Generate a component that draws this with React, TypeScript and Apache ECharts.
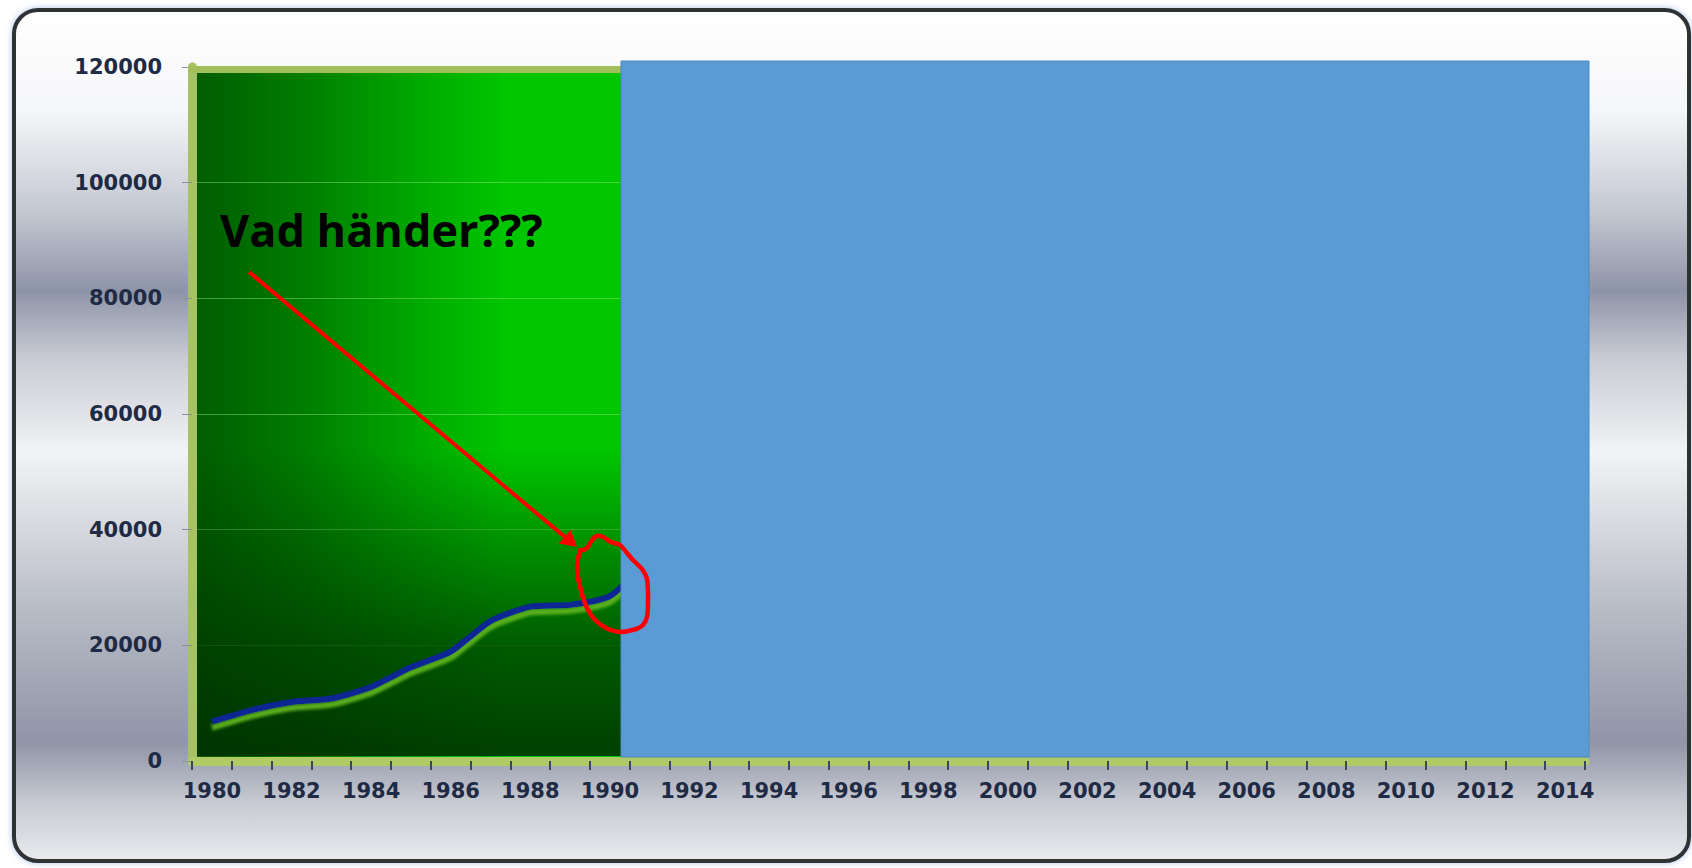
import React, { useEffect, useRef } from "react";
import * as echarts from "echarts";

const years = [
  "1980", "1981", "1982", "1983", "1984", "1985", "1986", "1987", "1988", "1989",
  "1990", "1991", "1992", "1993", "1994", "1995", "1996", "1997", "1998", "1999",
  "2000", "2001", "2002", "2003", "2004", "2005", "2006", "2007", "2008", "2009",
  "2010", "2011", "2012", "2013", "2014",
];

const values = [6800, 8800, 10200, 10800, 12800, 16200, 18900, 24200, 26700, 27000, 28500, 35000];

const yMin = 0;
const yMax = 120000;
const yStep = 20000;

const annotationText = "Vad händer???";

export default function App() {
  const ref = useRef<HTMLDivElement>(null);

  useEffect(() => {
    if (!ref.current) return;
    const chart = echarts.init(ref.current, null, { renderer: "svg" });

    const frameFill = new echarts.graphic.LinearGradient(0, 0, 0, 1, [
      { offset: 0, color: "#ffffff" },
      { offset: 0.12, color: "#f5f6f8" },
      { offset: 0.24, color: "#c2c6d0" },
      { offset: 0.33, color: "#8e94a8" },
      { offset: 0.41, color: "#c9ccd4" },
      { offset: 0.52, color: "#f2f3f5" },
      { offset: 0.7, color: "#b9bdc7" },
      { offset: 0.86, color: "#8f95a7" },
      { offset: 0.93, color: "#c6c9d1" },
      { offset: 1, color: "#e9ebee" },
    ]);

    const gridBg = new echarts.graphic.LinearGradient(0, 0, 1, 0, [
      { offset: 0, color: "#005c00" },
      { offset: 0.078, color: "#007c00" },
      { offset: 0.164, color: "#00aa00" },
      { offset: 0.225, color: "#00c600" },
      { offset: 1, color: "#00c800" },
    ]);

    const darken = new echarts.graphic.LinearGradient(0, 0, 0, 1, [
      { offset: 0, color: "rgba(0,55,0,0)" },
      { offset: 0.55, color: "rgba(0,55,0,0)" },
      { offset: 0.7, color: "rgba(0,55,0,0.4)" },
      { offset: 0.84, color: "rgba(0,55,0,0.75)" },
      { offset: 1, color: "rgba(0,48,0,0.9)" },
    ]);

    const loop = [
      [580, 550], [577, 567], [580, 587], [587, 608], [595, 620], [608, 629], [620, 632],
      [636, 629], [643, 625], [647, 617], [648, 600], [647, 579], [642, 569], [636, 563],
      [632, 559], [627, 553], [620, 545], [611, 542], [603, 537], [597, 536], [592, 540],
      [587, 548], [581, 551],
    ];

    const labelFont = {
      color: "#1f2a44",
      fontFamily: "DejaVu Sans",
      fontWeight: "bold",
      fontSize: 21,
    };

    chart.setOption({
      animation: false,
      grid: {
        left: 192,
        top: 67,
        width: 1393,
        height: 694,
        show: true,
        backgroundColor: gridBg,
        borderWidth: 0,
      },
      xAxis: {
        type: "category",
        data: years,
        boundaryGap: true,
        axisLine: { show: true, lineStyle: { color: "#b0cb66", width: 9 } },
        axisTick: {
          show: true,
          interval: 0,
          alignWithLabel: false,
          length: 9,
          lineStyle: { color: "#3a4660", width: 2 },
        },
        axisLabel: { interval: 1, margin: 19, ...labelFont },
        splitLine: { show: false },
      },
      yAxis: {
        type: "value",
        min: yMin,
        max: yMax,
        interval: yStep,
        axisLine: { show: true, lineStyle: { color: "#a6c262", width: 9 } },
        axisTick: { show: true, length: 10, lineStyle: { color: "#8a8f9a", width: 1 } },
        axisLabel: { margin: 30, formatter: (v: number) => String(v), ...labelFont },
        splitLine: { show: true, lineStyle: { color: "rgba(150,235,130,0.45)", width: 1 } },
      },
      series: [
        {
          type: "line",
          data: values,
          symbol: "none",
          smooth: 0.2,
          z: 3,
          lineStyle: {
            color: "#0c2694",
            width: 6,
            shadowColor: "rgba(95,180,30,0.95)",
            shadowBlur: 3,
            shadowOffsetY: 6,
          },
        },
      ],
      graphic: [
        {
          type: "rect",
          z: -10,
          shape: { x: 14, y: 10, width: 1675, height: 851, r: 24 },
          style: {
            fill: frameFill,
            stroke: "#2f3032",
            lineWidth: 4,
            shadowBlur: 6,
            shadowColor: "rgba(140,170,220,0.7)",
          },
        },
        {
          type: "rect",
          z: 1,
          silent: true,
          shape: { x: 197, y: 73, width: 424, height: 683 },
          style: { fill: darken },
        },
        {
          type: "rect",
          z: 1,
          shape: { x: 188, y: 66, width: 433, height: 7 },
          style: { fill: "#a3bf5c" },
        },
        {
          type: "rect",
          z: 5,
          shape: { x: 621, y: 61, width: 968, height: 696 },
          style: { fill: "#5b9bd5", stroke: "#4f89c2", lineWidth: 1 },
        },
        {
          type: "text",
          z: 6,
          style: {
            text: annotationText,
            x: 220,
            y: 229,
            fill: "#000000",
            fontFamily: "Open Sans",
            fontWeight: "bold",
            fontSize: 45,
            verticalAlign: "middle",
            align: "left",
          },
        },
        {
          type: "line",
          z: 6,
          shape: { x1: 249, y1: 272, x2: 566, y2: 538 },
          style: { stroke: "#ff0000", lineWidth: 4 },
        },
        {
          type: "polygon",
          z: 6,
          shape: { points: [[577, 547], [558.9, 543.6], [570.5, 529.8]] },
          style: { fill: "#ff0000" },
        },
        {
          type: "polyline",
          z: 6,
          shape: { points: loop, smooth: 0.3 },
          style: { stroke: "#ff0000", lineWidth: 4.5, fill: null, lineJoin: "round", lineCap: "round" },
        },
      ],
    });

    return () => chart.dispose();
  }, []);

  return (
    <div
      ref={ref}
      style={{ position: "absolute", left: 0, top: 0, width: 1692, height: 868, background: "#ffffff" }}
    />
  );
}
